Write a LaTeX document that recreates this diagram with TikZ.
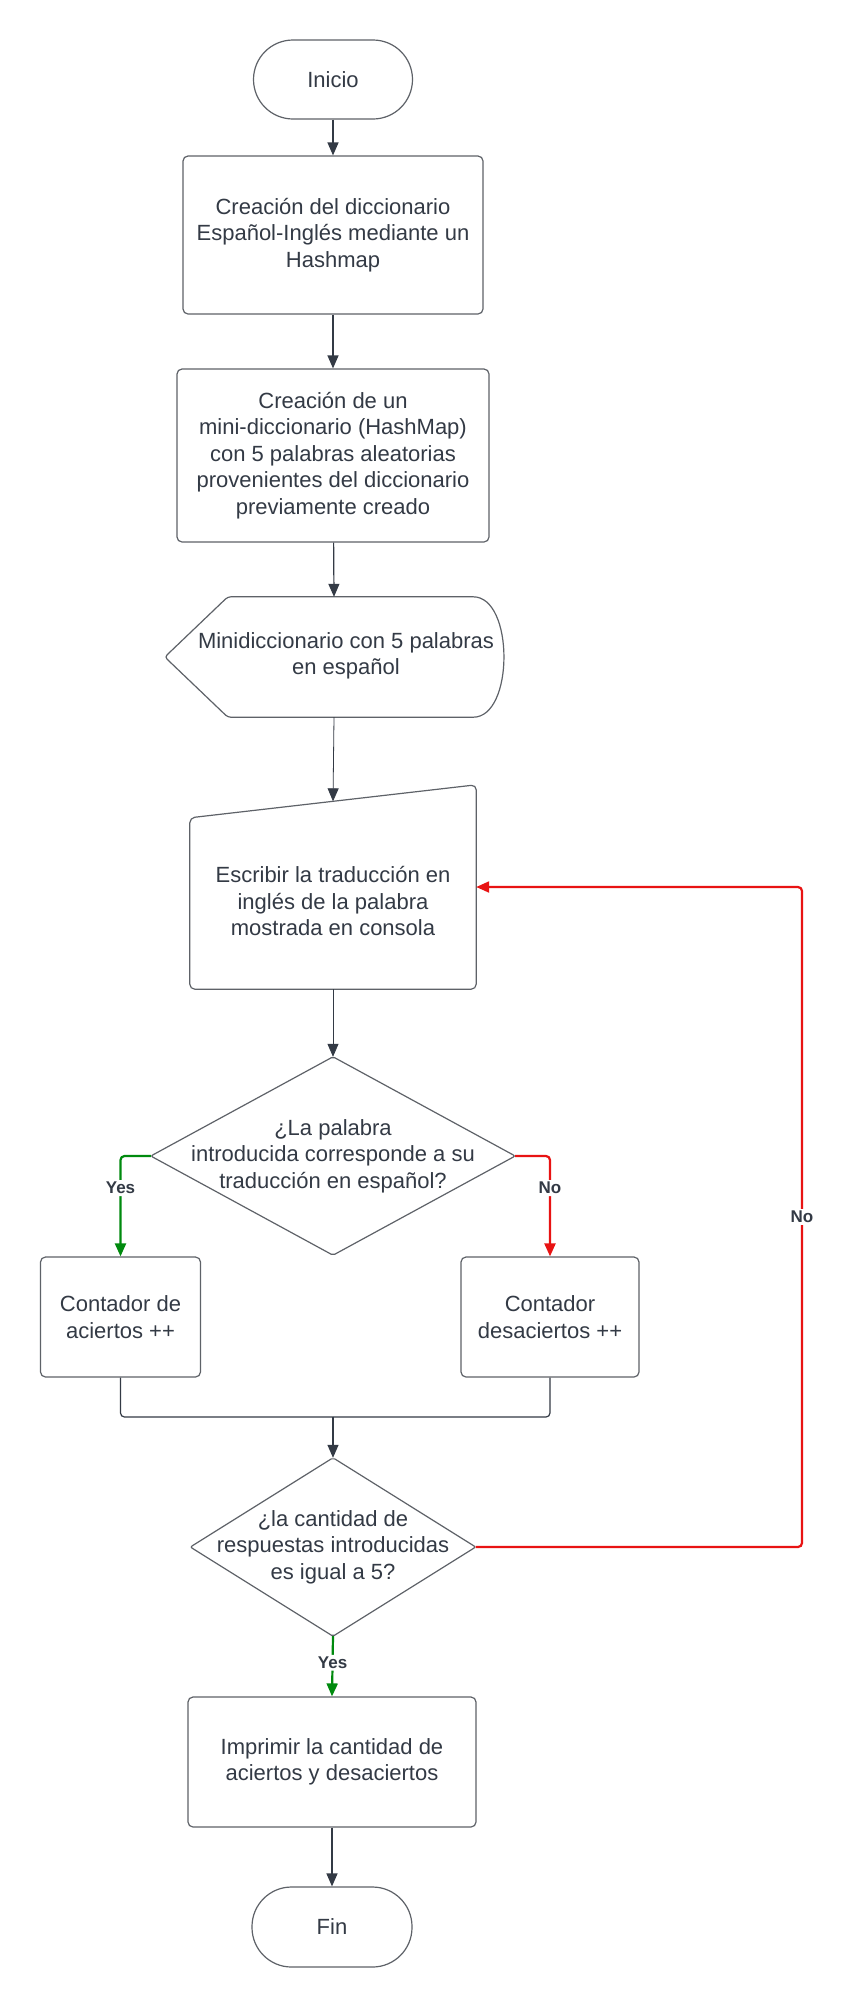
\documentclass[tikz,border=0pt]{standalone}
\usepackage{fontspec}
\setmainfont{Liberation Sans}
\usetikzlibrary{arrows.meta}
\definecolor{ink}{HTML}{333A45}
\definecolor{edge}{HTML}{5E6268}
\definecolor{yesgreen}{HTML}{008A0E}
\definecolor{nored}{HTML}{E81313}
\begin{document}
\begin{tikzpicture}[x=1pt, y=-1pt,
  txt/.style={text=ink, align=center, font=\fontsize{22}{26.5}\selectfont},
  proc/.style={txt, rectangle, draw=edge, line width=1.2pt, rounded corners=5pt},
  term/.style={txt, rectangle, draw=edge, line width=1.2pt, rounded corners=39.5pt, minimum width=159pt, minimum height=79pt},
  hold/.style={txt, rectangle, inner sep=0pt},
  shapeline/.style={draw=edge, line width=1.2pt},
  line/.style={draw=ink, line width=1.2pt, rounded corners=4pt},
  flow/.style={line, -{Triangle[length=13pt,width=11pt]}},
  thinflow/.style={flow, line width=0.8pt},
  yesflow/.style={flow, draw=yesgreen, line width=2.2pt},
  noflow/.style={flow, draw=nored, line width=2.2pt},
  tag/.style={fill=white, text=ink, font=\fontsize{17}{19}\bfseries\selectfont, inner sep=2pt}]
\useasboundingbox[fill=white] (0,0) rectangle (852,2008);
\node[term] (start) at (333,79.5) {Inicio};
\node[proc, minimum width=300pt, minimum height=158pt] (dict) at (333,235) {Creación del diccionario\\Español-Inglés mediante un\\Hashmap};
\node[proc, minimum width=312pt, minimum height=173pt] (mini) at (333,455.5) {Creación de un\\mini-diccionario (HashMap)\\con 5 palabras aleatorias\\provenientes del diccionario\\previamente creado};
\node[hold, minimum width=338pt, minimum height=120pt] (disp) at (334,657) {};
\node[txt] (disptxt) at (346,656) {Minidiccionario con 5 palabras\\en español};
\draw[shapeline, rounded corners=3pt] (disp.west) -- ([xshift=63pt]disp.north west) -- ([xshift=-33pt]disp.north east) .. controls ([xshift=11pt]disp.north east) and ([xshift=11pt]disp.south east) .. ([xshift=-33pt]disp.south east) -- ([xshift=63pt]disp.south west) -- cycle;
\node[hold, minimum width=286pt, minimum height=204pt] (inp) at (333,887) {};
\node[txt] (inptxt) at (333,901) {Escribir la traducción en\\inglés de la palabra\\mostrada en consola};
\draw[shapeline, rounded corners=5pt] ([yshift=-33pt]inp.north west) -- (inp.north east) -- (inp.south east) -- (inp.south west) -- cycle;
\node[hold, minimum width=364pt, minimum height=198pt] (q1) at (333,1156) {¿La palabra\\introducida corresponde a su\\traducción en español?};
\draw[shapeline, rounded corners=2pt] (q1.north) -- (q1.east) -- (q1.south) -- (q1.west) -- cycle;
\node[proc, minimum width=160pt, minimum height=120pt] (hit) at (120.5,1317) {Contador de\\aciertos ++};
\node[proc, minimum width=178pt, minimum height=120pt] (miss) at (550,1317) {Contador\\desaciertos ++};
\coordinate (join) at (333,1417);
\node[hold, minimum width=285pt, minimum height=178pt] (q2) at (333,1547) {¿la cantidad de\\respuestas introducidas\\es igual a 5?};
\draw[shapeline, rounded corners=2pt] (q2.north) -- (q2.east) -- (q2.south) -- (q2.west) -- cycle;
\coordinate (back) at (802,1547);
\node[proc, minimum width=288pt, minimum height=130pt] (print) at (332,1762) {Imprimir la cantidad de\\aciertos y desaciertos};
\node[term, minimum width=160pt, minimum height=80pt] (stop) at (332,1927) {Fin};
\draw[flow] (start) -- (dict);
\draw[flow] (dict) -- (mini);
\draw[flow] (mini) -- (disp.north);
\draw[thinflow] (disp.south) -- ([yshift=-16.5pt]inp.north);
\draw[thinflow] (inp.south) -- (q1.north);
\draw[yesflow] (q1.west) -| node[tag, pos=0.66]{Yes} (hit.north);
\draw[noflow] (q1.east) -| node[tag, pos=0.66]{No} (miss.north);
\draw[line] (hit.south) |- (join);
\draw[line] (miss.south) |- (join);
\draw[flow] (join) -- (q2.north);
\draw[noflow] (q2.east) -- (back) |- node[tag, pos=0.25]{No} (inp.east);
\draw[yesflow] (q2.south) -- node[tag, pos=0.44]{Yes} (print.north);
\draw[flow] (print) -- (stop);
\end{tikzpicture}
\end{document}
